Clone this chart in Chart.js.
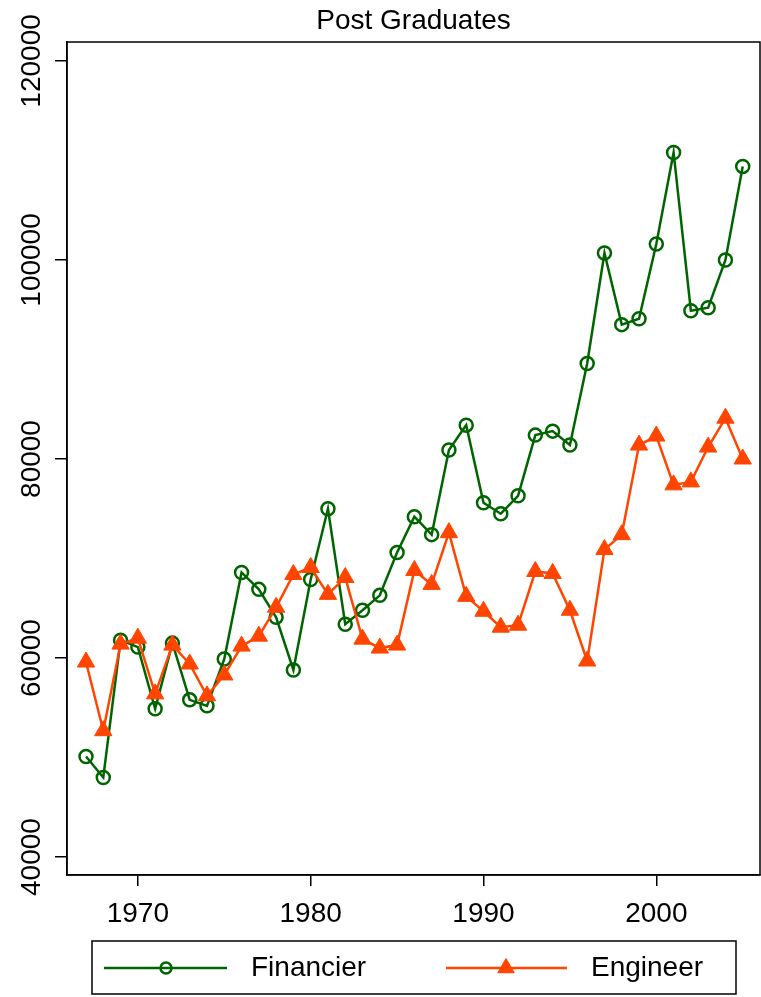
<!DOCTYPE html>
<html>
<head>
<meta charset="utf-8">
<script src="https://cdn.jsdelivr.net/npm/chart.js@4.4.1/dist/chart.umd.min.js"></script>
<style>
html, body { margin: 0; padding: 0; background: #fff; overflow: hidden; }
canvas { display: block; }
</style>
</head>
<body>
<canvas id="myChart" width="761" height="997"></canvas>
<script>
const years = [1967, 1968, 1969, 1970, 1971, 1972, 1973, 1974, 1975, 1976,
               1977, 1978, 1979, 1980, 1981, 1982, 1983, 1984, 1985, 1986,
               1987, 1988, 1989, 1990, 1991, 1992, 1993, 1994, 1995, 1996,
               1997, 1998, 1999, 2000, 2001, 2002, 2003, 2004, 2005];

const financier = [50100, 48000, 61800, 61100, 54900, 61500, 55800, 55200, 59900, 68600,
                   66900, 64100, 58800, 67900, 75000, 63400, 64800, 66300, 70600, 74200,
                   72400, 80900, 83400, 75600, 74500, 76300, 82400, 82800, 81400, 89600,
                   100700, 93500, 94100, 101600, 110800, 94900, 95200, 100000, 109400];

const engineer = [59600, 52700, 61400, 62000, 56400, 61300, 59400, 56200, 58300, 61200,
                  62200, 65100, 68400, 69100, 66400, 68100, 61900, 61000, 61300, 68800,
                  67400, 72600, 66200, 64700, 63100, 63300, 68700, 68500, 64800, 59700,
                  70900, 72400, 81400, 82300, 77400, 77700, 81200, 84100, 80000];

const xTicks = [1970, 1980, 1990, 2000];
const yTicks = [40000, 60000, 80000, 100000, 120000];

const titleText = 'Post Graduates';
const seriesNames = ['Financier', 'Engineer'];

const green = 'rgb(0,100,0)';
const orange = 'rgb(255,69,0)';
const FONT = '"Liberation Sans", Arial, Helvetica, sans-serif';

// title, rotated y labels, frame and legend
const decor = {
    id: 'decor',
    afterDraw(chart) {
        const ctx = chart.ctx;
        const a = chart.chartArea;
        const ys = chart.scales.y;
        ctx.save();

        // frame
        ctx.strokeStyle = '#000';
        ctx.lineWidth = 1.5;
        ctx.strokeRect(a.left, a.top, a.right - a.left, a.bottom - a.top);

        // title
        ctx.fillStyle = '#000';
        ctx.font = '28px ' + FONT;
        ctx.textAlign = 'center';
        ctx.textBaseline = 'middle';
        ctx.fillText(titleText, (a.left + a.right) / 2, 21);

        // y tick labels, vertical
        yTicks.forEach(v => {
            const y = ys.getPixelForValue(v);
            ctx.save();
            ctx.translate(32, y);
            ctx.rotate(-Math.PI / 2);
            ctx.fillText(String(v), 0, 0);
            ctx.restore();
        });

        // legend
        ctx.strokeStyle = '#000';
        ctx.lineWidth = 1.5;
        ctx.strokeRect(92, 941, 644, 53);
        const ly = 968;
        const items = [
            {x0: 104, x1: 227, mx: 166, tx: 251, color: green, style: 'circle', r: 5.5, fill: 'transparent'},
            {x0: 446, x1: 567, mx: 506, tx: 591, color: orange, style: 'triangle', r: 9.5, fill: orange}
        ];
        items.forEach((it, i) => {
            ctx.strokeStyle = it.color;
            ctx.lineWidth = 2.5;
            ctx.beginPath();
            ctx.moveTo(it.x0, ly);
            ctx.lineTo(it.x1, ly);
            ctx.stroke();
            ctx.fillStyle = it.fill;
            ctx.lineWidth = it.style === 'circle' ? 2.5 : 1;
            Chart.helpers.drawPoint(ctx, {pointStyle: it.style, radius: it.r, rotation: 0, borderWidth: ctx.lineWidth}, it.mx, ly);
            ctx.fillStyle = '#000';
            ctx.textAlign = 'left';
            ctx.fillText(seriesNames[i], it.tx, ly);
        });
        ctx.restore();
    }
};

const config = {
    type: 'line',
    data: {
        datasets: [
            {
                label: seriesNames[0],
                data: years.map((yr, i) => ({x: yr, y: financier[i]})),
                borderColor: green,
                backgroundColor: 'transparent',
                borderWidth: 2.5,
                pointStyle: 'circle',
                pointRadius: 6.5,
                pointBorderWidth: 2.5,
                pointBackgroundColor: 'transparent',
                pointBorderColor: green,
                tension: 0,
                order: 1
            },
            {
                label: seriesNames[1],
                data: years.map((yr, i) => ({x: yr, y: engineer[i]})),
                borderColor: orange,
                backgroundColor: orange,
                borderWidth: 2.5,
                pointStyle: 'triangle',
                pointRadius: 10,
                pointBorderWidth: 1,
                pointBackgroundColor: orange,
                pointBorderColor: orange,
                tension: 0,
                order: 0
            }
        ]
    },
    options: {
        responsive: false,
        animation: false,
        devicePixelRatio: 1,
        layout: {autoPadding: false, padding: {left: 0, right: 1, top: 42, bottom: 62}},
        plugins: {
            legend: {display: false},
            title: {display: false},
            tooltip: {enabled: false}
        },
        scales: {
            x: {
                type: 'linear',
                position: 'bottom',
                min: 1965.9,
                max: 2006.0,
                afterBuildTicks: s => { s.ticks = xTicks.map(v => ({value: v})); },
                afterFit: s => { s.height = 60; },
                grid: {display: true, drawOnChartArea: false, drawTicks: true, tickLength: 11, color: '#000', lineWidth: 1.5},
                border: {display: true, color: '#000', width: 1.5},
                ticks: {
                    color: '#000',
                    font: {size: 28, family: FONT},
                    padding: 11,
                    maxRotation: 0,
                    callback: v => String(v)
                }
            },
            y: {
                type: 'linear',
                position: 'left',
                min: 38200,
                max: 121900,
                afterBuildTicks: s => { s.ticks = yTicks.map(v => ({value: v})); },
                afterFit: s => { s.width = 67; },
                grid: {display: true, drawOnChartArea: false, drawTicks: true, tickLength: 12, color: '#000', lineWidth: 1.5},
                border: {display: true, color: '#000', width: 1.5},
                ticks: {display: false}
            }
        }
    },
    plugins: [decor]
};

const myChart = new Chart(document.getElementById('myChart'), config);
</script>
</body>
</html>
